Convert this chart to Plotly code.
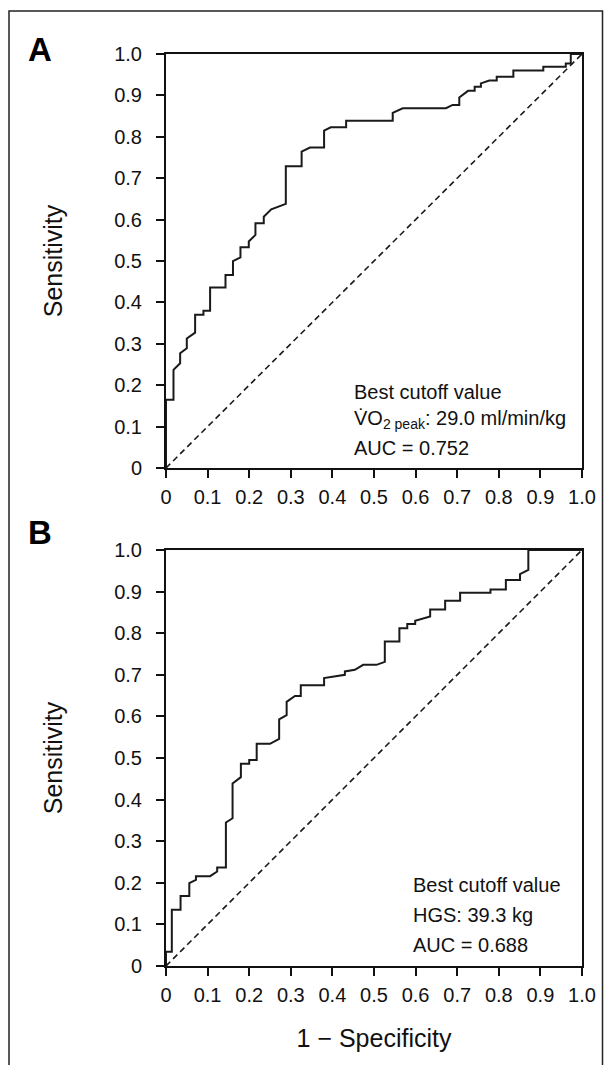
import plotly.graph_objects as go

# ---- data ----
tick_vals = [0, 0.1, 0.2, 0.3, 0.4, 0.5, 0.6, 0.7, 0.8, 0.9, 1.0]
tick_text = ["0", "0.1", "0.2", "0.3", "0.4", "0.5", "0.6", "0.7", "0.8", "0.9", "1.0"]

a_fpr = [0, 0, 0.018, 0.018, 0.034, 0.034, 0.05, 0.05, 0.07, 0.07, 0.09, 0.09, 0.106, 0.106,
         0.143, 0.143, 0.161, 0.161, 0.179, 0.179, 0.199, 0.199, 0.215, 0.215, 0.235, 0.235,
         0.253, 0.288, 0.288, 0.326, 0.326, 0.346, 0.380, 0.380, 0.396, 0.433, 0.433, 0.545,
         0.545, 0.569, 0.673, 0.689, 0.705, 0.705, 0.726, 0.742, 0.742, 0.757, 0.757, 0.777,
         0.795, 0.795, 0.835, 0.835, 0.907, 0.907, 0.961, 0.961, 0.973, 0.973, 1.0]
a_tpr = [0, 0.165, 0.165, 0.237, 0.253, 0.277, 0.289, 0.313, 0.327, 0.37, 0.37, 0.38, 0.38, 0.436,
         0.436, 0.466, 0.466, 0.50, 0.509, 0.533, 0.533, 0.547, 0.563, 0.591, 0.591, 0.607,
         0.625, 0.638, 0.729, 0.729, 0.764, 0.774, 0.774, 0.815, 0.823, 0.823, 0.839, 0.839,
         0.858, 0.869, 0.869, 0.877, 0.877, 0.895, 0.911, 0.911, 0.921, 0.921, 0.929, 0.936,
         0.936, 0.945, 0.945, 0.960, 0.960, 0.969, 0.969, 0.977, 0.977, 1.0, 1.0]

b_fpr = [0, 0, 0.014, 0.014, 0.035, 0.035, 0.056, 0.056, 0.072, 0.072, 0.106, 0.123, 0.123, 0.144,
         0.144, 0.160, 0.160, 0.180, 0.180, 0.200, 0.200, 0.218, 0.218, 0.250, 0.272, 0.272,
         0.290, 0.290, 0.310, 0.324, 0.324, 0.380, 0.380, 0.430, 0.430, 0.454, 0.474, 0.506,
         0.526, 0.526, 0.561, 0.561, 0.580, 0.580, 0.599, 0.599, 0.635, 0.635, 0.671, 0.671,
         0.707, 0.707, 0.780, 0.780, 0.817, 0.817, 0.851, 0.851, 0.871, 0.871, 1.0]
b_tpr = [0, 0.034, 0.034, 0.135, 0.135, 0.168, 0.168, 0.199, 0.207, 0.216, 0.216, 0.227, 0.237, 0.237,
         0.345, 0.355, 0.439, 0.454, 0.486, 0.486, 0.495, 0.495, 0.534, 0.534, 0.546, 0.593,
         0.603, 0.635, 0.649, 0.649, 0.675, 0.675, 0.692, 0.700, 0.708, 0.712, 0.724, 0.724,
         0.731, 0.780, 0.780, 0.812, 0.812, 0.822, 0.822, 0.830, 0.840, 0.857, 0.857, 0.878,
         0.878, 0.897, 0.897, 0.905, 0.905, 0.928, 0.928, 0.942, 0.952, 1.0, 1.0]

chance = [0, 1]

a_labels = ["Best cutoff value", "V\u0307O<sub>2 peak</sub>: 29.0 ml/min/kg", "AUC = 0.752"]
b_labels = ["Best cutoff value", "HGS: 39.3 kg", "AUC = 0.688"]

# ---- figure ----
OFF = 8  # page body margin
W, H = 612 - 2 * OFF, 1073 - 2 * OFF
FONT = "Liberation Sans, Arial, sans-serif"
fig = go.Figure()

curve_style = dict(color="#1a1a1a", width=2)
diag_style = dict(color="#1a1a1a", width=1.6, dash="6px,4px")

fig.add_trace(go.Scatter(x=a_fpr, y=a_tpr, mode="lines", line=curve_style, xaxis="x", yaxis="y", showlegend=False))
fig.add_trace(go.Scatter(x=chance, y=chance, mode="lines", line=diag_style, xaxis="x", yaxis="y", showlegend=False))
fig.add_trace(go.Scatter(x=b_fpr, y=b_tpr, mode="lines", line=curve_style, xaxis="x2", yaxis="y2", showlegend=False))
fig.add_trace(go.Scatter(x=chance, y=chance, mode="lines", line=diag_style, xaxis="x2", yaxis="y2", showlegend=False))

def px_x(p):
    return (p - OFF) / W

def px_y(p):
    return 1 - (p - OFF) / H

xdom = [px_x(166), px_x(582)]
ax_common = dict(
    range=[0, 1], tickvals=tick_vals, ticktext=tick_text, showgrid=False, zeroline=False,
    showline=True, linecolor="#111", linewidth=2, mirror=True, automargin=False,
    ticks="outside", ticklen=8, tickwidth=1.6, tickcolor="#111",
    tickfont=dict(family=FONT, size=20, color="#111"),
)
xt = dict(ticklabelstandoff=2)
yt = dict(ticklabelstandoff=10)

fig.update_layout(
    width=W, height=H,
    margin=dict(l=0, r=0, t=0, b=0),
    paper_bgcolor="white", plot_bgcolor="white",
    font=dict(family=FONT, color="#111"),
    xaxis=dict(domain=xdom, anchor="y", **ax_common, **xt),
    yaxis=dict(domain=[px_y(468), px_y(54)], anchor="x",
               title=dict(text="Sensitivity", font=dict(family=FONT, size=25), standoff=44), **ax_common, **yt),
    xaxis2=dict(domain=xdom, anchor="y2",
                title=dict(text="1 \u2212 Specificity", font=dict(family=FONT, size=25), standoff=24), **ax_common, **xt),
    yaxis2=dict(domain=[px_y(966), px_y(550)], anchor="x2",
                title=dict(text="Sensitivity", font=dict(family=FONT, size=25), standoff=44), **ax_common, **yt),
)

# outer frame
fig.add_shape(type="rect", xref="paper", yref="paper",
              x0=1 / W, x1=(W - 1.5) / W, y0=-0.05, y1=px_y(11),
              line=dict(color="#222", width=1.5), fillcolor="rgba(0,0,0,0)", layer="below")

# panel letters
fig.add_annotation(text="<b>A</b>", xref="paper", yref="paper", x=px_x(40), y=px_y(50),
                   showarrow=False, font=dict(family=FONT, size=33, color="#000"),
                   xanchor="center", yanchor="middle")
fig.add_annotation(text="<b>B</b>", xref="paper", yref="paper", x=px_x(40), y=px_y(532),
                   showarrow=False, font=dict(family=FONT, size=33, color="#000"),
                   xanchor="center", yanchor="middle")

# text annotations
for txt, yy in zip(a_labels, [0.184, 0.116, 0.048]):
    fig.add_annotation(text=txt, x=0.447, y=yy, xref="x", yref="y", showarrow=False,
                       xanchor="left", yanchor="middle", font=dict(family=FONT, size=20, color="#111"))
for txt, yy in zip(b_labels, [0.195, 0.123, 0.050]):
    fig.add_annotation(text=txt, x=0.589, y=yy, xref="x2", yref="y2", showarrow=False,
                       xanchor="left", yanchor="middle", font=dict(family=FONT, size=20, color="#111"))

fig.write_html("out.html")
